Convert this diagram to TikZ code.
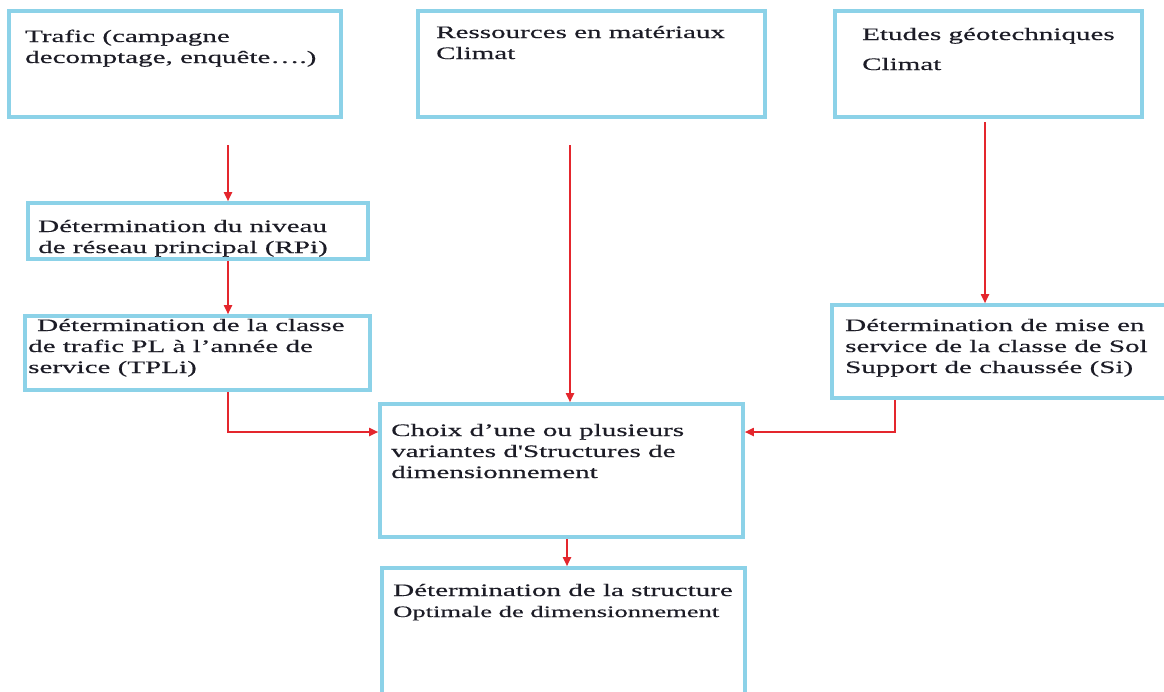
\documentclass[tikz,border=0pt]{standalone}
\usepackage{fontspec}
\setmainfont{Liberation Serif}[FakeStretch=1.66,FakeBold=0.4,Ligatures=TeXOff]
\usetikzlibrary{arrows.meta}
\definecolor{boxblue}{RGB}{140,210,232}
\definecolor{arrred}{RGB}{228,38,45}
\definecolor{txtcol}{RGB}{28,28,38}
\tikzset{
  box/.style={draw=boxblue, line width=3.6pt, fill=white, inner sep=0pt, rectangle},
  txt/.style={anchor=base west, align=left, inner sep=0pt, text=txtcol,
    font=\fontsize{17.5}{21}\selectfont},
  arr/.style={draw=arrred, line width=1.8pt, -{Triangle[length=9pt,width=8pt]}},
}
\begin{document}
\begin{tikzpicture}[x=1pt,y=-1pt]
\useasboundingbox (0,0) rectangle (1164,691);
\clip (0,0) rectangle (1164,691);
\fill[white] (0,0) rectangle (1164,691);

% boxes
\node[box, minimum width=332pt, minimum height=106pt] (trafic) at (175,64) {};
\node[box, minimum width=347pt, minimum height=106pt] (ress) at (591.5,64) {};
\node[box, minimum width=307pt, minimum height=106pt] (etudes) at (988.5,64) {};
\node[box, minimum width=340pt, minimum height=56pt] (niveau) at (198,231) {};
\node[box, minimum width=345pt, minimum height=74pt] (classe) at (197.5,353) {};
\node[box, minimum width=338pt, minimum height=93pt] (mise) at (1001,351.5) {};
\node[box, minimum width=363pt, minimum height=133pt] (choix) at (561.5,470.5) {};
\node[box, minimum width=363pt, minimum height=142pt] (optim) at (563.5,639) {};

% texts (anchored at the baseline of their last line)
\node[txt] (t1) at (25,63) {Trafic (campagne\\decomptage, enquête….)};
\node[txt] (t2) at (436,59) {Ressources en matériaux\\Climat};
\node[txt] (t3) at (862,70) {Etudes géotechniques\\[9pt]Climat};
\node[txt] (t4) at (38,253) {Détermination du niveau\\de réseau principal (RPi)};
\node[txt] (t5) at (28,373) {\hspace*{9pt}Détermination de la classe\\de trafic PL à l’année de\\service (TPLi)};
\node[txt] (t6) at (845,373) {Détermination de mise en\\service de la classe de Sol\\Support de chaussée (Si)};
\node[txt] (t7) at (391,478) {Choix d’une ou plusieurs\\variantes d'Structures de\\dimensionnement};
\node[txt] (t8) at (393,617) {Détermination de la structure\\{\fontsize{16}{21}\selectfont Optimale de dimensionnement}};

% connector helpers
\coordinate (a1) at (228,145);
\coordinate (a2) at (570,145);
\coordinate (a3) at (985,122);
\coordinate (a4) at (895,0);
\coordinate (a5) at (567,0);
\coordinate (hy) at (0,432);

% connectors
\draw[arr] (a1) -- (a1 |- niveau.north);
\draw[arr] (niveau.south -| a1) -- (classe.north -| a1);
\draw[arr] (a2) -- (a2 |- choix.north);
\draw[arr] (a3) -- (a3 |- mise.north);
\draw[arr] (classe.south -| a1) |- (choix.west |- hy);
\draw[arr] (mise.south -| a4) |- (choix.east |- hy);
\draw[arr] (choix.south -| a5) -- (optim.north -| a5);
\end{tikzpicture}
\end{document}
